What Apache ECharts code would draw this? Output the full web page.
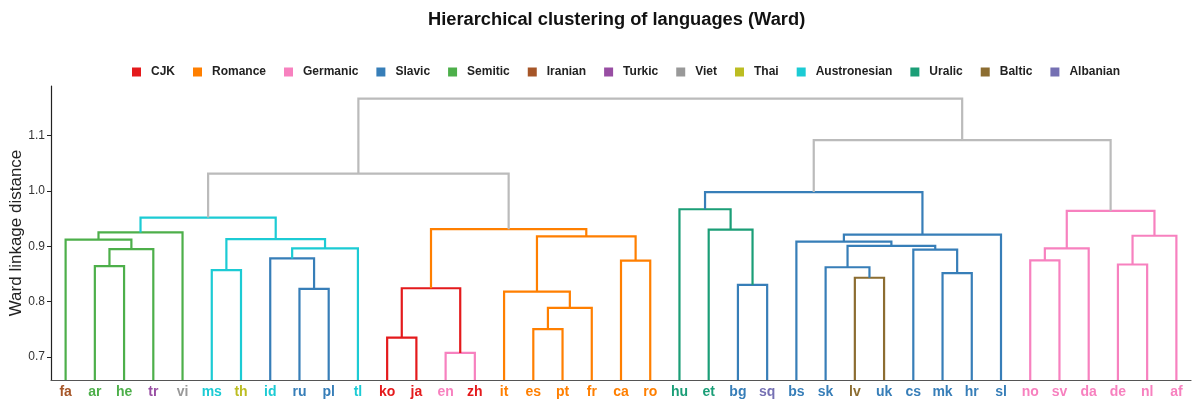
<!DOCTYPE html>
<html><head><meta charset="utf-8">
<script src="https://cdn.jsdelivr.net/npm/echarts@6/dist/echarts.min.js"></script>
<style>html,body{margin:0;padding:0;background:#fff}#c{width:1199px;height:405px}</style>
</head><body><div id="c"></div>
<script>
// Leaves in dendrogram order and their family
const leaves = ['fa','ar','he','tr','vi','ms','th','id','ru','pl','tl','ko','ja','en','zh','it','es','pt','fr','ca','ro','hu','et','bg','sq','bs','sk','lv','uk','cs','mk','hr','sl','no','sv','da','de','nl','af'];
const leafFamily = ['Iranian','Semitic','Semitic','Turkic','Viet','Austronesian','Thai','Austronesian','Slavic','Slavic','Austronesian','CJK','CJK','Germanic','CJK','Romance','Romance','Romance','Romance','Romance','Romance','Uralic','Uralic','Slavic','Albanian','Slavic','Slavic','Baltic','Slavic','Slavic','Slavic','Slavic','Slavic','Germanic','Germanic','Germanic','Germanic','Germanic','Germanic'];
const families = ['CJK','Romance','Germanic','Slavic','Semitic','Iranian','Turkic','Viet','Thai','Austronesian','Uralic','Baltic','Albanian'];
const familyColors = ['#e41a1c','#ff7f00','#f781bf','#377eb8','#4daf4a','#a65628','#984ea3','#999999','#bcbd22','#1ccbd4','#1b9e77','#8c6d31','#7570b3'];
const linkGray = '#bbbbbb';

// Merges m1..m38: left child, right child, Ward height, link colour group
const mergeLeft  = ['ar','m1','fa','m3','ms','ru','id','m7','m5','m4','ko','en','m11','es','m14','it','ca','m16','m13','m10','bg','et','hu','lv','sk','mk','cs','m25','bs','m29','m23','no','m32','de','m34','m33','m31','m20'];
const mergeRight = ['he','tr','m2','vi','th','pl','m6','tl','m8','m9','ja','zh','m12','pt','fr','m15','ro','m17','m18','m19','sq','m21','m22','uk','m24','hr','m26','m27','m28','sl','m30','sv','da','nl','af','m35','m36','m37'];
const mergeHeight = [0.864,0.895,0.912,0.925,0.857,0.823,0.878,0.896,0.913,0.952,0.7345,0.707,0.824,0.750,0.7885,0.818,0.874,0.918,0.931,1.0315,0.830,0.930,0.967,0.843,0.862,0.8515,0.894,0.9006,0.9085,0.921,0.998,0.8745,0.896,0.867,0.919,0.964,1.092,1.167];
const mergeColor = ['Semitic','Semitic','Semitic','Semitic','Austronesian','Slavic','Slavic','Austronesian','Austronesian','Austronesian','CJK','Germanic','CJK','Romance','Romance','Romance','Romance','Romance','Romance','link','Slavic','Uralic','Uralic','Baltic','Slavic','Slavic','Slavic','Slavic','Slavic','Slavic','Slavic','Germanic','Germanic','Germanic','Germanic','Germanic','link','link'];

const yTicks = [0.7, 0.8, 0.9, 1.0, 1.1];
const Y_MIN = 0.658, Y_MAX = 1.19;

const famColor = f => f === 'link' ? linkGray : familyColors[families.indexOf(f)];

// Build link segments in data coordinates
const pos = {};
leaves.forEach((l, i) => { pos[l] = { x: i + 0.5, h: Y_MIN }; });
const segs = [];
mergeLeft.forEach((a, k) => {
  const A = pos[a], B = pos[mergeRight[k]], h = mergeHeight[k];
  segs.push([A.x, A.h, B.x, B.h, h]);
  pos['m' + (k + 1)] = { x: (A.x + B.x) / 2, h: h };
});

const FONT = 'Liberation Sans, Arial, sans-serif';
const chart = echarts.init(document.getElementById('c'), null, { renderer: 'canvas' });

const legendSeries = families.map((f, i) => ({
  name: f, type: 'line', data: [], xAxisIndex: 1, yAxisIndex: 0,
  itemStyle: { color: familyColors[i] }, lineStyle: { color: familyColors[i] }
}));

chart.setOption({
  animation: false,
  backgroundColor: '#fff',
  title: {
    text: 'Hierarchical clustering of languages (Ward)',
    left: 423, top: 6,
    textStyle: { fontFamily: FONT, fontSize: 18.3, fontWeight: 'bold', color: '#111' }
  },
  legend: {
    data: families, top: 61, left: 127,
    icon: 'rect', itemWidth: 9, itemHeight: 9, itemGap: 18,
    textStyle: { fontFamily: FONT, fontSize: 12, fontWeight: 'bold', color: '#222', padding: [0, 0, 0, 5] }
  },
  grid: { left: 51, top: 86, width: 1140, height: 294, outerBoundsMode: 'none', containLabel: false },
  xAxis: [{
    type: 'category', boundaryGap: true,
    data: leaves.map((l, i) => ({ value: l, textStyle: { color: famColor(leafFamily[i]) } })),
    axisLine: { show: true, lineStyle: { color: '#555', width: 1.2 } },
    axisTick: { show: false },
    axisLabel: { interval: 0, margin: 5, fontFamily: FONT, fontSize: 14, fontWeight: 'bold' },
    splitLine: { show: false }
  }, {
    type: 'value', min: 0, max: leaves.length, show: false
  }],
  yAxis: [{
    type: 'value', min: Y_MIN, max: Y_MAX,
    name: 'Ward linkage distance', nameLocation: 'middle', nameGap: 26, nameMoveOverlap: false,
    nameTextStyle: { fontFamily: FONT, fontSize: 17, color: '#222' },
    axisLine: { show: true, lineStyle: { color: '#222', width: 1.2 } },
    axisTick: { show: true, length: 4, customValues: yTicks, lineStyle: { color: '#222' } },
    axisLabel: { customValues: yTicks, formatter: v => v.toFixed(1), fontFamily: FONT, fontSize: 12, color: '#333', margin: 6 },
    splitLine: { show: false }
  }],
  series: legendSeries.concat([{
    type: 'custom', xAxisIndex: 1, yAxisIndex: 0, silent: true,
    data: segs,
    encode: { x: [0, 2], y: [1, 3, 4] },
    renderItem: function (params, api) {
      const p1 = api.coord([api.value(0), api.value(1)]);
      const p2 = api.coord([api.value(0), api.value(4)]);
      const p3 = api.coord([api.value(2), api.value(4)]);
      const p4 = api.coord([api.value(2), api.value(3)]);
      return {
        type: 'polyline',
        shape: { points: [p1, p2, p3, p4] },
        style: { stroke: famColor(mergeColor[params.dataIndex]), lineWidth: 2.2, fill: null, lineJoin: 'miter' }
      };
    }
  }])
});
</script></body></html>
